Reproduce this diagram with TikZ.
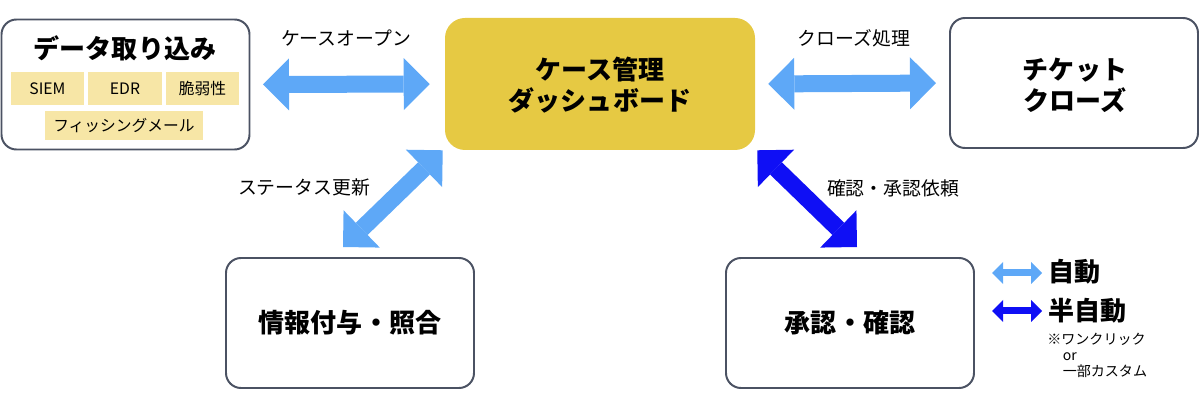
\documentclass[tikz,border=0pt]{standalone}
\usepackage{fontspec}
\setmainfont{Noto Sans CJK JP}
\usetikzlibrary{arrows.meta}

\definecolor{edgegray}{HTML}{4B5263}
\definecolor{hubgold}{HTML}{E6C943}
\definecolor{tagyellow}{HTML}{F7E6A6}
\definecolor{autoblue}{HTML}{5EA8F7}
\definecolor{semiblue}{HTML}{0F0FF5}

\begin{document}
\begin{tikzpicture}[x=0.25mm,y=-0.25mm,
  box/.style={draw=edgegray,line width=1.4pt,rounded corners=3.75mm,
    minimum width=62mm,minimum height=32.5mm,fill=white},
  hub/.style={fill=hubgold,rounded corners=5mm,minimum width=77.5mm,minimum height=33mm},
  tag/.style={fill=tagyellow,minimum height=8.25mm,inner sep=0pt,font=\fontsize{11.2}{13}\selectfont},
  head/.style={font=\fontsize{18.5}{22}\selectfont\bfseries,align=center},
  lbl/.style={font=\fontsize{13.4}{15}\selectfont},
  autoarr/.style={draw=autoblue,line width=4.25mm,
    {Triangle[length=6.5mm,width=13mm,line width=0pt]}-{Triangle[length=6.5mm,width=13mm,line width=0pt]}},
  semiarr/.style={autoarr,draw=semiblue},
  keyarr/.style={line width=1.75mm,
    {Triangle[length=2.75mm,width=5.5mm,line width=0pt]}-{Triangle[length=2.75mm,width=5.5mm,line width=0pt]}}]

  \useasboundingbox (0,0) rectangle (1200,412);

  % boxes
  \node[box] at (125.5,84.5) (intake) {};
  \node[hub] at (600,84) (board) {};
  \node[box] at (1074,83) (close) {};
  \node[box] at (350,323) (enrich) {};
  \node[box] at (850,323) (approve) {};

  \node[head] at (125,48) (intaketxt) {データ取り込み};
  \node[tag,minimum width=18.25mm] at (47.5,88.5) (siem) {SIEM};
  \node[tag,minimum width=18.25mm] at (125,88.5) (edr) {EDR};
  \node[tag,minimum width=18.25mm] at (202.5,88.5) (vuln) {脆弱性};
  \node[tag,minimum width=39.5mm,minimum height=7.25mm] at (124,125.5) (phish) {フィッシングメール};

  \node[head] at (600,85) (boardtxt) {ケース管理\\ダッシュボード};
  \node[head] at (1075,85) (closetxt) {チケット\\クローズ};
  \node[head] at (350,323) (enrichtxt) {情報付与・照合};
  \node[head] at (850,323) (approvetxt) {承認・確認};

  % connectors
  \draw[autoarr,shorten <=12.5*0.25mm,shorten >=15*0.25mm] (intake.east) -- (board.west);
  \draw[autoarr,shorten <=13*0.25mm,shorten >=13*0.25mm] (board.east) -- (close.west);
  \draw[autoarr] ([shift={(-2,0)}]board.south west) -- ([shift={(-7,-10)}]enrich.north);
  \draw[semiarr] ([shift={(2,0)}]board.south east) -- ([shift={(7,-10)}]approve.north);

  \node[lbl] at (346,38) (openlbl) {ケースオープン};
  \node[lbl] at (854,38) (closelbl) {クローズ処理};
  \node[lbl] at (304,187) (statuslbl) {ステータス更新};
  \node[lbl] at (893,188) (reqlbl) {確認・承認依頼};

  % legend
  \coordinate (k1a) at (992,273);
  \coordinate (k1b) at (1042,273);
  \coordinate (k2a) at (992,311);
  \coordinate (k2b) at (1042,311);
  \draw[keyarr,draw=autoblue] (k1a) -- (k1b);
  \draw[keyarr,draw=semiblue] (k2a) -- (k2b);
  \node[head,anchor=west,inner sep=0pt] at (1048,272) (autotxt) {自動};
  \node[head,anchor=west,inner sep=0pt] at (1048,311) (semitxt) {半自動};
  \node[anchor=north west,inner sep=0pt,align=left,font=\fontsize{10}{11.4}\selectfont]
    at (1047,333) (notetxt) {※ワンクリック\\\hspace*{1.1em}or\\\hspace*{1.1em}一部カスタム};

\end{tikzpicture}
\end{document}
